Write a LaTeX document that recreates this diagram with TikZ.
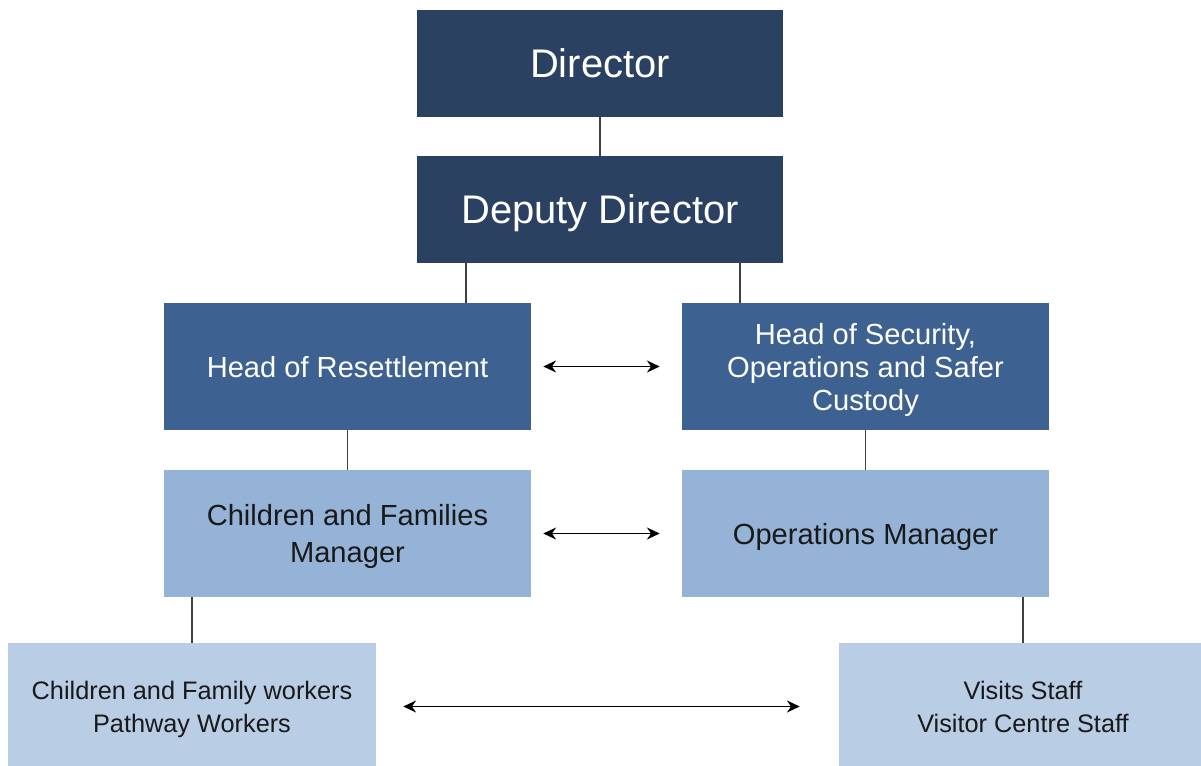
\documentclass[tikz,border=0pt]{standalone}
\usepackage{fontspec}
\setmainfont{Liberation Sans}
\usetikzlibrary{arrows.meta}

\definecolor{navy}{HTML}{2B4161}
\definecolor{midblue}{HTML}{3D6190}
\definecolor{paleblue}{HTML}{95B3D7}
\definecolor{iceblue}{HTML}{B9CDE5}

\begin{document}
\begin{tikzpicture}[every node/.style={rectangle, inner sep=0pt, align=center, text depth=0pt},
    top/.style={fill=navy, text=white, minimum width=9.15cm, minimum height=2.675cm,
        font=\fontsize{28.4}{32}\selectfont},
    head/.style={fill=midblue, text=white, minimum width=9.175cm, minimum height=3.175cm,
        font=\fontsize{20.7}{23.5}\selectfont},
    manager/.style={fill=paleblue, text=black!90, minimum width=9.175cm, minimum height=3.175cm,
        font=\fontsize{20.7}{26.5}\selectfont},
    staff/.style={fill=iceblue, text=black!90, minimum width=9.2cm, minimum height=3.175cm,
        font=\fontsize{18}{23.5}\selectfont},
    link/.style={draw=black!75, line width=0.8pt},
    both/.style={<->, line width=0.9pt},
    >={Stealth[length=3.2mm, width=3mm]}]
        \useasboundingbox (0,0) rectangle (30.025,-19.15);
        \clip (0,0) rectangle (30.025,-19.15);
        \node[top] (dir) at (15, -1.5875) {Director};
        \node[top] (dep) at (15, -5.2375) {Deputy Director};
        \node[head] (res) at (8.6875, -9.1625) {Head of Resettlement};
        \node[head] (sec) at (21.6375, -9.1625) {Head of Security,\\Operations and Safer\\Custody};
        \node[manager] (cfm) at (8.6875, -13.3375) {Children and Families\\Manager};
        \node[manager] (ops) at (21.6375, -13.3375) {Operations Manager};
        \node[staff] (cfw) at (4.8, -17.6625) {Children and Family workers\\Pathway Workers};
        \node[staff] (vis) at (25.575, -17.6625) {Visits Staff\\Visitor Centre Staff};
        % reporting lines
        \draw[link] (dir) -- (dep);
        \draw[link] ([xshift=-3.35cm]dep.south) -- ([xshift=-3.35cm]dep.south |- res.north);
        \draw[link] ([xshift=3.5cm]dep.south) -- ([xshift=3.5cm]dep.south |- sec.north);
        \draw[link] (res) -- (cfm);
        \draw[link] (sec) -- (ops);
        \draw[link] (cfw.north) -- (cfw.north |- cfm.south);
        \draw[link] (vis.north) -- (vis.north |- ops.south);
        % working together
        \draw[both, shorten <=0.3cm, shorten >=0.55cm] (res) -- (sec);
        \draw[both, shorten <=0.3cm, shorten >=0.55cm] (cfm) -- (ops);
        \draw[both, shorten <=0.675cm, shorten >=0.975cm] (cfw) -- (vis);
    \end{tikzpicture}
\end{document}
